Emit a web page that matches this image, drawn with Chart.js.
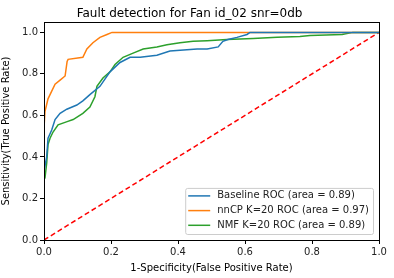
<!DOCTYPE html>
<html>
<head>
<meta charset="utf-8">
<script src="https://cdn.jsdelivr.net/npm/chart.js@4"></script>
<style>
  html, body { margin: 0; padding: 0; background: #fff; }
  #wrap { width: 394px; height: 278px; }
</style>
</head>
<body>
<div id="wrap"><canvas id="roc-chart" width="394" height="278"></canvas></div>
<script>
// Datos (FPR / TPR)
var baselineFpr = [0, 0.008, 0.012, 0.023, 0.033, 0.048, 0.068, 0.098, 0.116, 0.137, 0.167, 0.197, 0.227, 0.257, 0.287, 0.337, 0.376, 0.457, 0.487, 0.52, 0.534, 0.549, 0.576, 0.606, 0.615, 1];
var baselineTpr = [0.33, 0.40, 0.49, 0.53, 0.58, 0.61, 0.63, 0.65, 0.67, 0.70, 0.74, 0.81, 0.855, 0.88, 0.88, 0.89, 0.91, 0.92, 0.92, 0.93, 0.957, 0.966, 0.976, 0.99, 1.0, 1.0];

var nncpFpr = [0, 0.003, 0.012, 0.033, 0.048, 0.063, 0.069, 0.072, 0.116, 0.128, 0.146, 0.167, 0.188, 0.203, 1];
var nncpTpr = [0.54, 0.62, 0.68, 0.75, 0.77, 0.79, 0.86, 0.87, 0.88, 0.92, 0.95, 0.976, 0.99, 1.0, 1.0];

var nmfFpr = [0, 0.003, 0.008, 0.012, 0.018, 0.027, 0.042, 0.069, 0.087, 0.116, 0.137, 0.152, 0.158, 0.176, 0.197, 0.212, 0.236, 0.266, 0.296, 0.337, 0.367, 0.406, 0.445, 0.487, 0.546, 0.624, 0.696, 0.764, 0.794, 0.89, 0.922, 1];
var nmfTpr = [0.29, 0.30, 0.37, 0.46, 0.49, 0.52, 0.555, 0.57, 0.58, 0.61, 0.64, 0.69, 0.74, 0.78, 0.81, 0.845, 0.88, 0.90, 0.92, 0.93, 0.94, 0.95, 0.957, 0.96, 0.966, 0.97, 0.976, 0.98, 0.985, 0.99, 1.0, 1.0];

var chanceFpr = [0, 1];
var chanceTpr = [0, 1];

var seriesLabels = ["Baseline ROC (area = 0.89)", "nnCP K=20 ROC (area = 0.97)", "NMF K=20 ROC (area = 0.89)"];
var tickValues = [0, 0.2, 0.4, 0.6, 0.8, 1.0];

function toPoints(xs, ys) {
    return xs.map(function (x, i) { return { x: x, y: ys[i] }; });
}

var FONT = "'DejaVu Sans', sans-serif";

// Marco completo del área del gráfico
var framePlugin = {
    id: "frame",
    afterDatasetsDraw: function (chart) {
        var a = chart.chartArea, ctx = chart.ctx;
        ctx.save();
        ctx.strokeStyle = "#000";
        ctx.lineWidth = 1;
        ctx.strokeRect(Math.round(a.left) + 0.5, Math.round(a.top) + 0.5, Math.round(a.right - a.left), Math.round(a.bottom - a.top));
        ctx.restore();
    }
};

// Leyenda dentro del gráfico, abajo a la derecha
var insideLegend = {
    id: "insideLegend",
    afterDraw: function (chart) {
        var ctx = chart.ctx, a = chart.chartArea;
        var sets = chart.data.datasets.filter(function (d) { return !d.hideInLegend; });
        ctx.save();
        ctx.font = "10px " + FONT;
        var textW = 0;
        sets.forEach(function (d) { textW = Math.max(textW, ctx.measureText(d.label).width); });
        var rowH = 14.7;
        var w = 32 + textW + 4;
        var h = sets.length * rowH + 2;
        var x0 = a.right - 6 - w, y0 = a.bottom - 6 - h;
        ctx.fillStyle = "rgba(255,255,255,0.8)";
        ctx.strokeStyle = "#cccccc";
        ctx.lineWidth = 1;
        ctx.beginPath();
        ctx.roundRect(x0 + 0.5, y0 + 0.5, w, h, 2);
        ctx.fill();
        ctx.stroke();
        sets.forEach(function (d, i) {
            var cy = y0 + 8 + i * rowH;
            ctx.strokeStyle = d.borderColor;
            ctx.lineWidth = 1.5;
            ctx.beginPath();
            ctx.moveTo(x0 + 3, cy);
            ctx.lineTo(x0 + 25, cy);
            ctx.stroke();
            ctx.fillStyle = "#222";
            ctx.textBaseline = "middle";
            ctx.fillText(d.label, x0 + 32, cy);
        });
        ctx.restore();
    }
};

var ctx = document.getElementById("roc-chart").getContext("2d");
var rocChart = new Chart(ctx, {
    type: "line",
    data: {
        datasets: [
            { label: seriesLabels[0], data: toPoints(baselineFpr, baselineTpr), borderColor: "#1f77b4", borderWidth: 1.5, pointRadius: 0, fill: false },
            { label: seriesLabels[1], data: toPoints(nncpFpr, nncpTpr), borderColor: "#ff7f0e", borderWidth: 1.5, pointRadius: 0, fill: false },
            { label: seriesLabels[2], data: toPoints(nmfFpr, nmfTpr), borderColor: "#2ca02c", borderWidth: 1.5, pointRadius: 0, fill: false },
            { label: "chance", hideInLegend: true, data: toPoints(chanceFpr, chanceTpr), borderColor: "#ff0000", borderWidth: 1.5, borderDash: [5, 3], pointRadius: 0, fill: false }
        ]
    },
    plugins: [framePlugin, insideLegend],
    options: {
        responsive: false,
        animation: false,
        layout: { padding: { left: 0, right: 15, top: 0, bottom: 0 } },
        plugins: {
            legend: { display: false },
            tooltip: { enabled: false },
            title: {
                display: true,
                text: "Fault detection for Fan id_02 snr=0db",
                color: "#000",
                font: { family: FONT, size: 12, weight: "normal" },
                padding: { top: 7, bottom: 0.6 }
            }
        },
        scales: {
            x: {
                type: "linear",
                min: 0,
                max: 1,
                afterFit: function (s) { s.height = 38; },
                afterBuildTicks: function (s) { s.ticks = tickValues.map(function (v) { return { value: v }; }); },
                grid: { drawOnChartArea: false, tickLength: 4, color: "#000" },
                border: { color: "#000" },
                ticks: { color: "#222", padding: 2, maxRotation: 0, font: { family: FONT, size: 10 }, callback: function (v) { return v.toFixed(1); } },
                title: { display: true, text: "1-Specificity(False Positive Rate)", color: "#000", font: { family: FONT, size: 10 }, padding: { top: 2, bottom: 4 } }
            },
            y: {
                type: "linear",
                min: 0,
                max: 1.05,
                afterFit: function (s) { s.width = 44; },
                afterBuildTicks: function (s) { s.ticks = tickValues.map(function (v) { return { value: v }; }); },
                grid: { drawOnChartArea: false, tickLength: 4, color: "#000" },
                border: { color: "#000" },
                ticks: { color: "#222", padding: 2, font: { family: FONT, size: 10 }, callback: function (v) { return v.toFixed(1); } },
                title: { display: true, text: "Sensitivity(True Positive Rate)", color: "#000", font: { family: FONT, size: 10 }, padding: { top: 0, bottom: 2 } }
            }
        }
    }
});
</script>
</body>
</html>
